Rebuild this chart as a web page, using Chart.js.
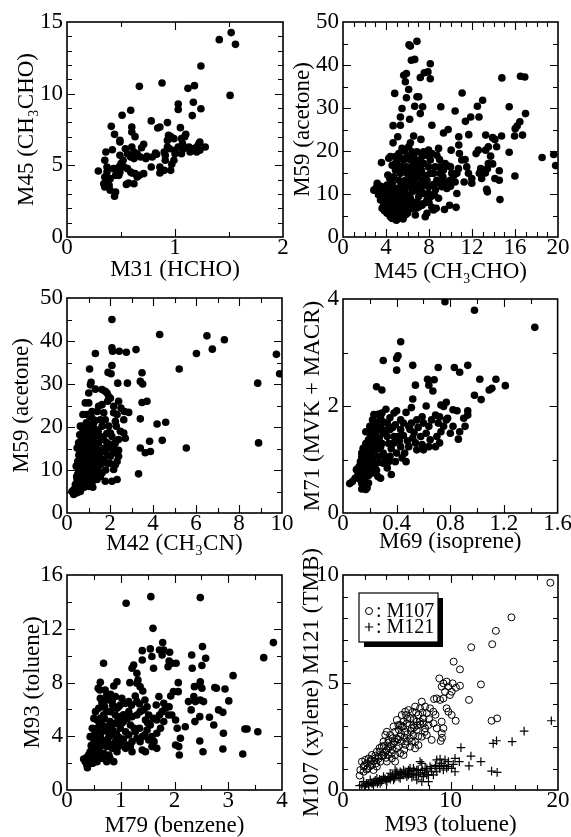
<!DOCTYPE html>
<html>
<head>
<meta charset="utf-8">
<script src="https://cdn.jsdelivr.net/npm/chart.js@4.4.0/dist/chart.umd.min.js"></script>
<style>
  html, body { margin: 0; padding: 0; background: #fff; }
  #wrap { position: relative; width: 571px; height: 837px; }
  #wrap canvas { position: absolute; left: 0; top: 0; }
</style>
</head>
<body>
<div id="wrap">
  <canvas id="c1" width="571" height="837"></canvas>
  <canvas id="c2" width="571" height="837"></canvas>
  <canvas id="c3" width="571" height="837"></canvas>
  <canvas id="c4" width="571" height="837"></canvas>
  <canvas id="c5" width="571" height="837"></canvas>
  <canvas id="c6" width="571" height="837"></canvas>
</div>
<script>
// 刻度标签
const xTicks1 = [0, 1, 2],               yTicks1 = [0, 5, 10, 15];
const xTicks2 = [0, 4, 8, 12, 16, 20],   yTicks2 = [0, 10, 20, 30, 40, 50];
const xTicks3 = [0, 2, 4, 6, 8, 10],     yTicks3 = [0, 10, 20, 30, 40, 50];
const xTicks4 = [0, 0.4, 0.8, 1.2, 1.6], yTicks4 = [0, 2, 4];
const xTicks5 = [0, 1, 2, 3, 4],         yTicks5 = [0, 4, 8, 12, 16];
const xTicks6 = [0, 10, 20],             yTicks6 = [0, 5, 10];

// M31 vs M45
const hchoAcetaldehyde = [[1.52,14.26],[1.41,13.77],[1.56,13.44],[1.24,11.93],[1.51,9.88],[0.88,10.74],[0.67,10.51],[1.12,10.37],[1.18,10.56],[1.03,9.28],[1.03,8.9],[1.17,9.4],[1.24,8.95],[1.16,8.47],[0.59,8.84],[0.51,8.49],[0.78,8.1],[0.84,7.6],[0.86,7.67],[0.93,7.98],[1.05,7.63],[0.41,7.72],[0.44,7.16],[0.6,7.67],[0.6,7.33],[0.63,7.0],[0.49,6.74],[0.49,6.63],[0.71,6.47],[0.69,6.23],[0.36,5.93],[0.42,6.09],[0.49,5.7],[0.54,6.16],[0.56,5.81],[0.59,5.58],[0.6,6.28],[0.62,5.93],[0.65,5.81],[0.62,5.47],[0.68,5.58],[0.73,5.49],[0.79,5.58],[0.83,5.77],[0.91,5.7],[0.91,5.35],[0.93,6.28],[0.93,6.74],[0.94,7.09],[0.96,7.0],[0.99,6.86],[1.0,6.05],[1.0,5.81],[1.03,6.28],[1.06,6.86],[1.07,6.51],[1.09,7.0],[1.1,7.16],[1.08,6.16],[1.06,5.81],[1.13,6.28],[1.14,5.93],[1.16,6.16],[1.2,6.28],[1.22,6.51],[1.23,6.63],[1.2,5.93],[1.28,6.28],[1.23,6.05],[0.99,5.35],[0.97,5.07],[0.96,4.65],[0.9,4.65],[0.86,4.88],[0.86,4.47],[0.78,4.88],[0.73,5.47],[0.71,4.42],[0.67,4.3],[0.65,4.19],[0.62,3.72],[0.6,4.47],[0.57,3.77],[0.55,3.67],[0.56,4.77],[0.5,5.12],[0.48,4.88],[0.52,5.35],[0.53,4.88],[0.46,4.65],[0.43,4.77],[0.45,4.3],[0.48,4.3],[0.29,4.6],[0.35,5.35],[0.37,4.88],[0.37,4.53],[0.35,4.19],[0.34,3.72],[0.36,3.84],[0.39,3.6],[0.35,3.49],[0.4,3.26],[0.45,3.14],[0.44,2.84],[0.37,4.19],[0.4,4.07],[0.49,4.53],[0.63,4.42],[0.74,5.63],[0.82,5.86],[0.9,5.93],[0.95,6.16],[0.59,4.53]];

// M45 vs M59
const acetaldehydeAcetone = [[6.14,44.7],[6.88,45.5],[6.27,44.4],[6.36,41.1],[6.67,41.3],[8.12,40.3],[7.56,38.2],[7.9,38.4],[8.12,36.8],[7.19,37.1],[5.65,37.6],[5.9,38.0],[5.8,36.1],[6.11,34.3],[5.9,32.4],[6.88,32.6],[7.04,32.6],[4.81,33.4],[6.67,30.4],[7.41,30.3],[7.19,28.7],[5.49,29.9],[6.2,27.4],[8.27,26.0],[5.34,27.9],[5.34,26.0],[4.66,25.9],[5.09,23.3],[4.66,21.9],[6.57,23.5],[7.25,22.7],[6.27,21.9],[6.11,21.0],[5.49,20.6],[5.71,20.0],[9.1,30.3],[10.43,29.3],[11.08,33.5],[12.99,31.8],[12.5,30.4],[12.65,27.9],[11.88,27.9],[11.39,26.9],[11.7,23.8],[9.78,25.0],[9.35,24.2],[10.06,20.2],[10.77,21.4],[10.77,23.3],[14.78,37.0],[16.51,37.4],[16.91,37.2],[16.98,28.7],[15.46,30.3],[16.45,26.8],[16.2,25.8],[16.02,25.2],[16.7,23.7],[15.96,23.5],[14.75,23.5],[14.13,22.7],[13.27,23.7],[13.92,23.1],[13.52,21.0],[14.29,21.0],[13.27,20.2],[12.59,20.2],[12.38,19.4],[15.46,19.7],[15.99,14.2],[18.52,18.5],[19.6,19.2],[19.78,16.6],[13.73,18.8],[13.52,17.1],[13.92,17.0],[14.54,15.4],[12.81,15.9],[12.68,14.8],[13.43,15.9],[13.24,14.9],[12.9,13.6],[14.13,13.6],[14.54,13.2],[13.36,11.1],[13.43,10.5],[14.6,8.7],[11.98,13.6],[11.98,12.5],[11.27,12.8],[11.67,14.8],[11.51,16.3],[11.05,17.9],[10.83,19.4],[11.36,18.0],[10.74,15.9],[10.59,14.8],[10.43,12.8],[10.59,10.1],[10.52,6.9],[9.91,7.4],[9.44,6.4],[8.67,6.7],[8.43,6.3],[9.97,13.2],[10.12,14.8],[9.81,16.5],[9.5,17.1],[9.35,15.6],[9.04,14.8],[8.98,18.0],[8.73,19.0],[8.58,16.3],[8.43,14.8],[8.73,13.2],[9.5,12.8],[9.2,11.7],[9.66,11.3],[8.49,9.8],[8.89,9.0],[8.18,9.4],[7.81,5.5],[7.65,4.7],[8.27,6.9],[6.73,5.1],[6.82,6.7],[7.04,7.0],[7.35,7.4],[7.5,7.8],[7.81,8.6],[7.96,10.1],[7.96,11.7],[7.81,13.2],[8.12,14.8],[7.96,16.3],[8.12,17.9],[8.27,19.4],[7.81,19.0],[7.35,18.7],[7.5,17.1],[7.19,16.3],[7.19,14.8],[7.35,13.2],[7.35,11.7],[7.5,10.1],[7.04,9.4],[6.88,10.9],[6.73,12.5],[6.88,14.0],[6.73,15.6],[6.73,17.1],[6.57,18.7],[6.27,17.9],[6.42,16.3],[6.27,14.8],[6.42,13.2],[6.27,11.7],[6.42,10.5],[6.27,9.0],[6.11,7.8],[5.96,6.3],[5.8,5.1],[5.59,4.2],[5.9,16.3],[5.96,14.8],[5.8,13.2],[5.96,11.7],[5.8,10.1],[5.65,8.6],[5.49,7.0],[5.34,5.5],[5.65,17.9],[5.49,16.3],[5.34,14.8],[5.19,13.2],[5.34,11.7],[5.19,10.1],[5.03,8.6],[4.88,7.0],[4.72,5.5],[4.57,4.3],[4.97,3.9],[5.03,17.1],[4.88,15.6],[4.72,14.0],[4.57,12.5],[4.88,11.3],[4.57,9.8],[4.41,8.6],[4.26,7.0],[4.1,5.5],[4.41,4.7],[4.41,18.7],[4.26,18.3],[4.57,16.7],[4.17,14.4],[4.35,13.6],[4.1,12.1],[3.95,10.9],[3.86,10.1],[4.04,9.4],[3.64,9.4],[3.8,8.2],[3.73,7.0],[3.64,6.7],[3.86,6.1],[3.58,17.3],[3.18,12.5],[2.87,10.9],[3.24,11.1],[3.49,10.5],[3.49,8.6],[4.04,7.8],[3.95,11.7],[5.19,19.4],[4.88,18.7],[6.42,19.8],[6.88,19.8],[7.5,19.8],[7.96,20.2],[8.89,20.6],[9.04,16.3],[10.0,16.3],
  [4.2,10.5],[4.5,11.5],[4.8,10.0],[5.1,11.0],[5.4,9.5],[5.7,10.5],[6.0,9.5],[6.3,12.5],[6.6,11.0],[6.9,12.0],[7.2,10.8],[7.6,12.4],[4.3,8.0],[4.6,7.5],[4.9,8.5],[5.2,7.5],[5.5,8.2],[5.8,7.3],[6.1,8.4],[6.5,8.0],[6.9,8.2],[4.2,6.0],[4.5,6.2],[4.8,6.4],[5.1,6.2],[5.5,6.0],[5.8,6.6],[3.7,8.5],[3.9,7.5],[4.0,6.5],[4.7,4.8],[5.0,5.0],[5.3,4.5],[6.0,5.5],[6.4,6.6],[6.6,14.0],[6.2,13.5],[5.6,12.2],[5.2,15.8],[5.8,15.5],[6.2,15.8],[6.9,15.0],[7.3,15.5],[7.7,14.3],[7.0,17.8],[6.0,18.8],[5.4,18.3],[4.9,17.2],[8.4,12.2],[8.6,11.0],[9.0,12.5],[9.3,14.0],[10.3,14.3],[10.0,11.8],[8.0,8.0],[3.5,11.8],[3.3,9.8],[3.1,11.5]];

// M42 vs M59
const acetonitrileAcetone = [[2.09,45.0],[2.09,38.4],[2.12,37.6],[2.43,37.6],[2.76,37.4],[3.21,38.0],[1.32,37.1],[4.31,41.5],[6.51,41.2],[7.32,40.3],[6.76,38.1],[6.02,37.1],[9.74,36.9],[9.89,32.4],[5.22,33.5],[8.87,30.2],[8.91,16.3],[5.55,15.1],[4.43,16.9],[4.19,20.7],[4.59,21.1],[3.49,32.6],[3.41,30.6],[3.52,30.0],[3.49,25.7],[3.72,26.0],[3.41,21.9],[3.41,15.1],[3.64,14.0],[3.88,14.3],[3.84,16.7],[3.33,9.1],[2.81,30.2],[2.36,30.2],[2.05,32.4],[2.09,34.3],[1.91,32.7],[1.05,33.5],[1.09,29.8],[1.12,30.4],[1.32,28.8],[1.63,28.7],[1.78,28.3],[1.86,27.9],[1.94,27.1],[2.02,26.7],[1.89,26.0],[2.4,26.0],[2.51,24.4],[2.67,23.6],[2.87,23.4],[2.64,21.7],[2.17,24.8],[2.17,23.3],[2.33,22.9],[2.25,21.3],[2.29,20.2],[2.48,19.0],[2.64,18.6],[2.71,17.4],[2.4,17.1],[2.25,16.3],[2.17,15.5],[2.4,14.6],[2.4,13.2],[2.17,14.0],[2.02,13.2],[1.94,15.1],[1.86,16.3],[1.71,17.1],[1.55,17.8],[1.63,20.2],[1.55,21.7],[1.4,23.6],[1.47,24.8],[1.63,25.2],[1.71,23.3],[1.78,21.7],[1.94,20.2],[2.02,18.6],[2.09,17.8],[2.33,12.0],[2.25,11.2],[2.17,10.1],[2.33,7.8],[2.09,7.4],[1.78,7.4],[1.63,9.3],[1.55,11.2],[1.71,12.4],[1.47,13.2],[1.4,12.0],[1.32,15.5],[1.24,17.8],[1.32,19.4],[1.24,20.9],[1.16,22.1],[1.16,23.6],[0.93,22.9],[1.01,25.6],[0.85,25.6],[1.01,27.9],[0.74,22.9],[0.78,20.2],[0.62,20.2],[0.7,19.8],[0.59,18.2],[0.54,16.3],[0.47,15.1],[0.7,15.5],[0.85,17.1],[0.93,18.6],[1.09,19.0],[1.01,20.2],[1.16,17.1],[1.09,15.5],[0.93,14.0],[0.78,13.2],[0.62,13.2],[0.85,12.0],[1.01,11.2],[1.16,12.4],[1.24,14.0],[1.4,14.7],[1.47,16.3],[1.09,9.7],[1.24,8.5],[1.4,7.8],[1.16,7.0],[1.01,6.2],[0.85,7.0],[0.93,8.1],[0.7,9.3],[0.62,10.5],[0.54,9.3],[0.47,7.8],[0.39,6.6],[0.54,6.2],[0.7,5.8],[0.31,5.4],[0.23,5.0],[0.31,4.3],[0.47,4.7],[0.62,5.0],[0.78,7.8],[1.32,10.5],[1.47,9.7],[1.55,8.5],[1.86,11.6],[1.01,13.6],[0.78,10.9],[0.9,9.9],[0.5,12.0],[0.43,10.9],[0.8,15.0],[0.95,16.2],[1.2,16.0],[0.6,11.5],[0.7,12.3],[0.9,10.5],[1.1,10.8],[1.3,12.8],[0.65,8.0],[0.8,8.8],[1.05,8.2],[0.55,7.0],[0.4,5.8],[0.9,18.0],[1.1,13.0],[1.3,21.5],[0.75,18.5],[0.6,14.5],[1.55,14.0],[1.7,15.0],[1.9,13.5],[2.0,11.5],[1.8,10.0],[1.2,6.0],[0.35,4.6],
  [0.45,8.5],[0.55,10.0],[0.65,11.0],[0.75,12.0],[0.85,13.0],[0.95,12.5],[1.05,14.5],[1.15,15.0],[1.25,16.5],[0.65,16.8],[0.75,16.0],[0.85,15.2],[0.95,19.0],[1.05,18.0],[1.2,19.5],[1.35,18.0],[1.45,19.0],[0.5,9.0],[0.6,6.8],[0.7,7.5],[0.85,9.2],[0.95,11.0],[1.2,11.5],[1.35,13.5],[1.45,11.0],[1.6,12.5],[1.75,14.2],[1.85,18.5],[2.1,16.0],[0.35,5.5],[0.45,5.2],[0.55,5.6],[0.5,6.5],[0.8,6.0],[0.95,7.2],[1.1,8.0],[1.25,9.3],[0.7,14.0],[0.55,13.5],[0.9,21.0],[1.05,22.5],[0.75,11.0]];

// M69 vs M71
const isopreneMvk = [[0.76,3.95],[0.98,3.79],[1.43,3.47],[0.43,3.2],[0.41,2.94],[0.40,2.89],[0.30,2.85],[0.40,2.67],[0.52,2.76],[0.71,2.72],[0.83,2.72],[0.87,2.63],[0.93,2.76],[0.63,2.5],[0.68,2.49],[0.64,2.39],[0.67,2.28],[0.54,2.39],[0.25,2.36],[0.29,2.3],[1.02,2.5],[1.14,2.5],[1.09,2.3],[1.11,2.33],[1.21,2.38],[0.98,2.2],[1.03,2.12],[0.52,2.13],[0.51,1.97],[0.62,2.0],[0.77,2.07],[0.75,1.99],[0.73,2.02],[0.93,1.91],[0.93,1.83],[0.82,1.93],[0.85,1.91],[0.9,1.77],[0.91,1.62],[0.87,1.52],[0.86,1.38],[0.82,1.62],[0.77,1.74],[0.72,1.8],[0.71,1.68],[0.69,1.83],[0.66,1.74],[0.64,1.62],[0.6,1.68],[0.59,1.8],[0.55,1.74],[0.62,1.49],[0.73,1.52],[0.72,1.31],[0.69,1.24],[0.64,1.24],[0.59,1.28],[0.55,1.18],[0.52,1.4],[0.5,1.56],[0.47,1.88],[0.45,1.68],[0.43,1.56],[0.41,1.43],[0.39,1.65],[0.38,1.87],[0.32,1.94],[0.29,1.87],[0.28,1.74],[0.35,1.56],[0.33,1.43],[0.38,1.31],[0.43,1.24],[0.46,1.12],[0.47,0.96],[0.44,1.03],[0.4,1.12],[0.35,1.06],[0.34,0.96],[0.33,0.84],[0.36,0.72],[0.28,0.65],[0.26,0.68],[0.30,1.12],[0.28,1.24],[0.25,1.37],[0.24,1.49],[0.23,1.62],[0.22,1.74],[0.23,1.84],[0.25,1.84],[0.28,1.8],[0.25,1.62],[0.2,1.49],[0.19,1.37],[0.18,1.24],[0.19,1.12],[0.22,1.0],[0.24,0.9],[0.2,0.84],[0.17,0.87],[0.15,1.0],[0.14,1.12],[0.13,0.96],[0.12,0.87],[0.12,0.75],[0.13,0.62],[0.15,0.5],[0.17,0.44],[0.14,0.45],[0.18,0.47],[0.19,0.56],[0.17,0.68],[0.17,0.76],[0.09,0.65],[0.07,0.59],[0.05,0.55],[0.1,0.81],[0.14,0.75],[0.15,1.21],[0.17,1.52],[0.2,1.62],[0.22,1.31],[0.24,1.18],[0.26,1.06],[0.30,0.93],[0.39,0.96],[0.49,1.24],[0.54,1.31],[0.58,1.43],[0.6,1.18],[0.65,1.37],[0.7,1.43],[0.75,1.62],[0.78,1.77],[0.8,1.49],[0.4,1.91],[0.43,1.74],[0.49,1.62],[0.51,1.68],[0.33,1.68],[0.30,1.49],[0.38,1.43],
  [0.13,0.8],[0.15,0.85],[0.16,0.95],[0.18,0.9],[0.2,1.0],[0.21,1.1],[0.16,1.05],[0.18,1.15],[0.2,1.25],[0.22,1.2],[0.24,1.3],[0.26,1.2],[0.27,1.4],[0.29,1.3],[0.21,1.45],[0.23,1.55],[0.26,1.55],[0.28,1.6],[0.3,1.7],[0.32,1.55],[0.34,1.3],[0.36,1.2],[0.31,1.05],[0.27,0.95],[0.25,0.8],[0.22,0.75],[0.19,0.7],[0.16,0.6],[0.14,0.55],[0.11,0.7],[0.15,0.68],[0.19,0.95],[0.17,1.3],[0.14,1.05],[0.37,1.6],[0.42,1.35],[0.45,1.45],[0.48,1.35],[0.53,1.5],[0.56,1.6],[0.35,1.78],[0.27,1.85],[0.24,1.7]];

// M79 vs M93
const benzeneToluene = [[1.56,14.39],[1.1,13.9],[2.48,14.32],[1.6,12.03],[1.78,10.97],[1.72,10.42],[1.8,10.42],[1.77,10.05],[1.58,9.93],[1.4,10.37],[1.4,9.68],[1.55,10.5],[1.91,10.25],[1.9,9.6],[1.95,9.43],[1.88,9.18],[2.03,9.43],[1.61,9.06],[1.24,9.3],[1.21,9.06],[1.3,8.68],[1.32,8.19],[1.3,7.94],[1.36,7.69],[1.41,7.37],[1.17,7.99],[0.68,9.43],[0.62,8.01],[0.58,7.57],[0.61,7.44],[0.71,7.44],[0.87,7.74],[0.74,7.07],[0.81,7.12],[0.9,6.95],[1.02,6.82],[0.62,6.82],[0.59,6.08],[1.09,6.45],[0.99,6.33],[0.93,6.08],[1.15,6.58],[1.27,7.0],[1.3,6.58],[1.36,5.83],[1.3,5.58],[1.21,5.46],[1.12,5.33],[0.99,5.46],[0.9,5.58],[0.81,5.83],[0.73,5.83],[0.68,5.58],[0.62,5.33],[0.56,5.21],[0.5,5.33],[0.47,4.59],[0.56,4.59],[0.65,4.84],[0.71,4.71],[0.81,4.71],[0.9,4.96],[0.99,4.59],[1.09,4.34],[1.18,4.84],[1.27,4.34],[1.3,3.85],[1.21,3.6],[1.12,3.35],[1.09,3.1],[0.99,3.47],[0.9,3.6],[0.87,4.09],[0.78,3.97],[0.71,3.6],[0.62,3.97],[0.56,3.72],[0.5,3.6],[0.43,3.97],[0.5,3.1],[0.59,2.85],[0.68,2.73],[0.65,2.36],[0.78,2.61],[0.87,2.11],[0.74,2.11],[0.56,2.11],[0.47,2.48],[0.4,2.23],[0.34,2.11],[0.31,2.31],[0.37,1.86],[0.38,1.66],[0.42,1.99],[0.5,2.23],[0.43,2.85],[0.53,2.61],[0.62,3.23],[0.74,3.23],[0.84,3.1],[0.93,2.85],[0.96,3.23],[1.21,2.85],[1.18,3.23],[1.36,3.6],[1.4,2.98],[1.46,2.85],[1.4,3.97],[1.49,4.47],[1.55,4.84],[1.46,5.21],[1.52,5.58],[1.61,5.33],[1.67,5.21],[1.72,5.58],[1.77,5.83],[1.8,5.09],[1.74,4.59],[1.67,4.22],[1.58,3.97],[1.62,3.6],[1.67,3.1],[1.58,3.23],[1.52,3.72],[1.83,6.08],[1.9,6.2],[1.8,6.45],[1.71,6.95],[1.66,6.33],[1.43,5.96],[1.49,6.2],[1.98,7.32],[2.07,7.99],[2.07,7.32],[1.93,7.0],[2.02,5.21],[2.05,4.59],[2.02,3.35],[2.08,3.23],[2.11,3.85],[2.09,2.61],[2.2,4.71],[2.31,5.96],[2.26,6.58],[2.39,6.58],[2.36,6.95],[2.37,7.69],[2.32,10.05],[2.33,9.06],[2.48,8.06],[2.47,7.82],[2.51,7.57],[2.48,6.7],[2.54,6.58],[2.38,5.09],[2.47,5.46],[2.47,3.65],[2.53,2.85],[2.51,9.26],[2.52,10.67],[2.58,9.8],[2.65,5.41],[2.73,4.84],[2.75,7.62],[2.78,7.57],[2.82,5.96],[2.9,5.78],[2.94,7.52],[3.01,6.63],[3.09,8.51],[2.91,4.22],[2.9,3.05],[3.27,2.68],[3.31,4.54],[3.35,4.54],[3.55,4.34],[3.66,9.85],[3.84,10.97],[1.89,5.58],[1.95,5.58],[1.02,4.96],[1.15,5.83],[0.96,6.2],[0.84,6.58],[0.93,8.06],[0.53,5.83],
  [0.45,3.3],[0.52,3.85],[0.58,3.3],[0.66,3.45],[0.75,3.75],[0.82,3.4],[0.92,4.2],[0.97,3.9],[0.55,2.6],[0.6,2.45],[0.7,2.3],[0.8,2.35],[0.48,2.0],[0.4,2.6],[0.36,2.4],[0.64,4.3],[0.76,4.35],[0.85,4.45],[0.52,4.25],[0.6,5.0],[0.7,5.3],[0.8,5.1],[0.95,5.2],[1.05,5.1],[1.05,3.8],[1.15,4.1],[1.25,4.6],[1.35,4.6],[1.45,4.1],[1.5,5.0],[1.05,5.6],[0.85,6.3],[0.7,6.2],[0.65,6.5],[0.75,6.7],[1.35,6.4],[1.45,6.7],[1.2,6.3]];

// M93 vs M107 / M121
const tolueneXylene = [[19.29,9.64],[15.67,8.03],[14.22,7.4],[13.88,6.78],[11.93,6.64],[10.29,5.97],[10.88,5.61],[12.83,4.91],[8.96,5.19],[11.72,4.19],[14.34,3.33],[13.82,3.22],[10.48,3.22],[10.88,4.85],[10.51,4.76],[10.2,4.96],[9.8,4.81],[9.64,5.04],[9.34,4.96],[9.18,4.81],[9.49,4.57],[9.95,4.42],[10.11,4.57],[9.34,4.26],[9.03,4.19],[8.72,4.26],[8.47,4.23],[9.64,3.8],[9.8,3.64],[10.11,3.49],[9.18,3.18],[9.34,2.87],[9.18,2.64],[9.09,2.28],[8.41,3.1],[7.95,3.02],[8.41,3.64],[8.1,3.8],[7.79,3.57],[7.33,4.11],[7.64,3.88],[7.17,3.8],[7.02,3.49],[7.48,3.33],[7.17,3.18],[7.64,2.87],[7.79,2.56],[7.33,2.48],[6.86,2.79],[6.55,3.26],[6.49,3.64],[6.71,3.88],[6.09,3.72],[5.87,3.49],[6.24,3.33],[5.94,3.1],[6.4,2.87],[6.55,2.56],[6.71,2.25],[6.24,2.02],[6.71,1.94],[5.69,1.86],[5.47,2.25],[5.32,2.48],[5.78,2.71],[5.47,2.95],[5.16,3.02],[4.85,2.71],[5.01,2.4],[4.7,2.17],[5.01,1.94],[5.32,1.71],[5.63,1.63],[4.39,2.02],[4.23,2.33],[4.39,2.56],[3.93,2.56],[3.77,2.25],[3.62,2.02],[4.08,1.86],[3.77,1.63],[3.46,1.78],[3.15,1.78],[3.31,1.55],[3.0,1.47],[2.69,1.63],[2.38,1.47],[2.53,1.32],[2.23,1.24],[2.07,1.4],[1.76,1.32],[1.92,1.09],[1.61,0.93],[1.55,0.67],[1.92,0.85],[2.29,1.01],[2.69,1.16],[3.09,1.24],[3.46,1.32],[3.15,1.09],[2.84,0.93],[4.08,1.32],[4.54,1.47],[4.85,1.63],[4.85,1.32],[4.54,1.71],[4.23,1.63],[4.08,2.71],[4.7,2.95],[5.01,3.26],[5.32,3.02],[5.63,3.18],[5.47,3.49],[5.78,3.64],[6.55,3.02],[6.86,3.18],[8.25,2.33],[8.72,2.87],[9.21,2.43],[5.94,2.25],[6.24,2.4],[7.02,2.09],
  [2.5,1.1],[2.9,1.35],[3.3,1.45],[3.6,1.6],[3.9,1.75],[4.2,1.95],[4.5,2.1],[4.8,2.25],[5.1,2.35],[5.4,2.6],[5.7,2.45],[6.0,2.6],[6.3,2.75],[6.6,2.9],[6.9,3.0],[7.2,3.05],[7.5,3.1],[2.2,0.95],[2.0,1.15],[2.6,1.4],[3.0,1.6],[3.4,1.95],[3.8,2.05],[4.2,2.2],[4.6,2.4],[5.2,2.8],[5.6,2.95],[6.0,3.3],[6.8,3.6],[7.4,3.6],[8.0,3.3],[8.6,3.5],[4.0,1.5],[4.6,1.85],[5.2,2.05],[5.8,2.1],[6.4,2.25],[7.0,2.5],[7.6,2.7]];
const tolueneTmb = [[19.38,3.22],[16.85,2.74],[15.73,2.25],[14.28,2.29],[13.97,2.17],[11.9,1.58],[10.97,1.97],[12.83,1.32],[11.72,1.12],[13.82,0.88],[14.34,0.82],[10.82,1.32],[10.42,1.47],[10.26,1.19],[9.8,1.32],[10.11,1.01],[10.42,0.85],[9.49,1.4],[9.18,1.24],[9.03,1.44],[8.72,1.4],[8.96,1.09],[9.34,0.93],[9.64,1.01],[8.56,1.01],[8.25,0.85],[7.79,0.7],[7.95,0.39],[7.33,1.24],[7.17,1.32],[7.64,1.01],[6.86,0.93],[6.55,1.01],[6.4,0.78],[6.09,0.93],[5.78,0.85],[5.47,0.78],[5.16,0.7],[4.85,0.7],[4.54,0.62],[4.23,0.54],[3.93,0.51],[3.62,0.47],[3.31,0.39],[3.0,0.36],[2.69,0.31],[2.38,0.26],[2.07,0.23],[1.76,0.23],[1.55,0.2],[1.92,0.39],[2.53,0.47],[3.15,0.54],[3.77,0.62],[4.39,0.78],[5.01,0.85],[5.63,0.93],[6.24,1.01],[6.55,0.7],[5.94,0.62],[5.32,0.54],[4.7,0.47],[4.08,0.39],[3.46,0.31],[2.84,0.23],[7.02,0.7],[7.48,0.62],[7.95,0.7],[8.41,0.7],[8.72,0.85],[6.86,0.47],[7.33,0.39],[5.32,0.85],[4.85,0.93],[6.09,0.7],[7.79,0.93],[8.1,1.09],
  [2.2,0.3],[2.6,0.35],[3.0,0.45],[3.4,0.5],[3.8,0.55],[4.2,0.6],[4.6,0.7],[5.0,0.75],[5.4,0.8],[5.8,0.75],[6.2,0.85],[6.6,0.9],[7.0,0.95],[7.4,0.9],[7.8,1.0],[8.2,1.0],[8.6,1.15],[9.0,1.0],[9.4,1.15],[9.8,1.1],[2.0,0.15],[2.4,0.2],[2.8,0.3],[3.2,0.3],[3.6,0.4],[4.0,0.45],[4.4,0.5],[4.8,0.55],[5.2,0.6],[5.6,0.7],[6.0,0.75],[6.4,0.6],[6.8,0.7],[7.2,0.8],[7.6,0.8]];

const FONT = 'Liberation Serif';
const W = 571, H = 837;

const dotStyle = { pointStyle: 'circle', pointRadius: 3.8, backgroundColor: '#000', borderWidth: 0 };
const ringStyle = { pointStyle: 'circle', pointRadius: 3.5, backgroundColor: 'rgba(0,0,0,0)', borderColor: '#000', borderWidth: 1 };
const crossStyle = { pointStyle: 'cross', pointRadius: 4.3, borderColor: '#000', borderWidth: 1.2 };

// 六个面板：位置、刻度、标题
const panels = [
  { id: 'c1', sets: [{ pts: hchoAcetaldehyde, style: dotStyle }],
    xTitle: 'M31 (HCHO)', yTitle: 'M45 (CH₃CHO)',
    xTicks: xTicks1, yTicks: yTicks1, xMinor: 0.5, yMinor: 1,
    box: { l: 67, r: 283, t: 22, b: 237 }, xTitleY: 270, yTitleX: 27 },
  { id: 'c2', sets: [{ pts: acetaldehydeAcetone, style: dotStyle }],
    xTitle: 'M45 (CH₃CHO)', yTitle: 'M59 (acetone)',
    xTicks: xTicks2, yTicks: yTicks2, xMinor: 1, yMinor: 5,
    box: { l: 343, r: 558, t: 22, b: 237 }, xTitleY: 272, yTitleX: 303 },
  { id: 'c3', sets: [{ pts: acetonitrileAcetone, style: dotStyle }],
    xTitle: 'M42 (CH₃CN)', yTitle: 'M59 (acetone)',
    xTicks: xTicks3, yTicks: yTicks3, xMinor: 1, yMinor: 5,
    box: { l: 67, r: 282, t: 298, b: 513 }, xTitleY: 544, yTitleX: 22 },
  { id: 'c4', sets: [{ pts: isopreneMvk, style: dotStyle }],
    xTitle: 'M69 (isoprene)', yTitle: 'M71 (MVK + MACR)',
    xTicks: xTicks4, yTicks: yTicks4, xMinor: 0.2, yMinor: 1,
    box: { l: 343, r: 558, t: 299, b: 513 }, xTitleY: 542, yTitleX: 313 },
  { id: 'c5', sets: [{ pts: benzeneToluene, style: dotStyle }],
    xTitle: 'M79 (benzene)', yTitle: 'M93 (toluene)',
    xTicks: xTicks5, yTicks: yTicks5, xMinor: 0.5, yMinor: 2,
    box: { l: 67, r: 282, t: 575, b: 790 }, xTitleY: 826, yTitleX: 33 },
  { id: 'c6', sets: [{ pts: tolueneXylene, style: ringStyle, label: 'M107' },
                     { pts: tolueneTmb, style: crossStyle, label: 'M121' }],
    xTitle: 'M93 (toluene)', yTitle: 'M107 (xylene) M121 (TMB)',
    xTicks: xTicks6, yTicks: yTicks6, xMinor: 2, yMinor: 1,
    box: { l: 343, r: 558, t: 575, b: 790 }, xTitleY: 825, yTitleX: 312, legend: true }
];

// 刻度线位置（向内），主刻度更长
function tickMarks(scale, step) {
  const n = Math.round((scale.max - scale.min) / step);
  const majors = scale.ticks.map(t => t.value);
  const out = [];
  for (let i = 1; i < n; i++) {
    const v = scale.min + i * step;
    out.push([v, majors.some(m => Math.abs(m - v) < 1e-6)]);
  }
  return out;
}

const frameTicks = {
  id: 'frameTicks',
  afterDraw(chart) {
    const o = chart.options.plugins.frameTicks;
    const { ctx, chartArea: a } = chart;
    const sx = chart.scales.x, sy = chart.scales.y;
    ctx.save();
    ctx.strokeStyle = '#000';
    ctx.lineWidth = 1.1;
    ctx.beginPath();
    tickMarks(sx, o.xMinor).forEach(([v, big]) => {
      const px = Math.round(sx.getPixelForValue(v)) + 0.5, len = big ? 8 : 5;
      ctx.moveTo(px, a.bottom); ctx.lineTo(px, a.bottom - len);
      ctx.moveTo(px, a.top); ctx.lineTo(px, a.top + len);
    });
    tickMarks(sy, o.yMinor).forEach(([v, big]) => {
      const py = Math.round(sy.getPixelForValue(v)) + 0.5, len = big ? 8 : 5;
      ctx.moveTo(a.left, py); ctx.lineTo(a.left + len, py);
      ctx.moveTo(a.right, py); ctx.lineTo(a.right - len, py);
    });
    ctx.stroke();
    ctx.lineWidth = 1.6;
    ctx.strokeRect(a.left, a.top, a.right - a.left, a.bottom - a.top);
    ctx.restore();
  }
};

// 带阴影的图例框
const boxLegend = {
  id: 'boxLegend',
  afterDraw(chart) {
    const { ctx, chartArea: a } = chart;
    const x = a.left + 16, y = a.top + 18, w = 79, h = 49;
    ctx.save();
    ctx.fillStyle = '#000';
    ctx.fillRect(x + 5, y + 5, w, h);
    ctx.fillStyle = '#fff';
    ctx.fillRect(x, y, w, h);
    ctx.strokeStyle = '#000';
    ctx.lineWidth = 1.2;
    ctx.strokeRect(x, y, w, h);
    ctx.font = '20px "' + FONT + '"';
    ctx.textBaseline = 'middle';
    ctx.fillStyle = '#000';
    chart.data.datasets.forEach((ds, i) => {
      const cy = y + 18 + i * 16, mx = x + 10;
      ctx.beginPath();
      if (ds.pointStyle === 'cross') {
        ctx.lineWidth = ds.borderWidth;
        ctx.moveTo(mx - 4.3, cy); ctx.lineTo(mx + 4.3, cy);
        ctx.moveTo(mx, cy - 4.3); ctx.lineTo(mx, cy + 4.3);
      } else {
        ctx.lineWidth = 1;
        ctx.arc(mx, cy, 3.5, 0, Math.PI * 2);
      }
      ctx.stroke();
      ctx.fillText(': ' + ds.label, x + 17, cy + 1);
    });
    ctx.restore();
  }
};

function makePanel(p) {
  const LH = 23;
  const padLeft = p.yTitleX - LH / 2;
  const padBottom = H - (p.xTitleY + LH / 2);
  const font = { family: FONT, size: 23, lineHeight: 1 };
  const fmt = v => String(+(+v).toFixed(2));

  new Chart(document.getElementById(p.id), {
    type: 'scatter',
    data: {
      datasets: p.sets.map(s => Object.assign({
        label: s.label || '',
        data: s.pts.map(([x, y]) => ({ x, y })),
        clip: 0
      }, s.style))
    },
    options: {
      responsive: false,
      animation: false,
      events: [],
      layout: { padding: { left: padLeft, top: p.box.t, right: W - p.box.r, bottom: padBottom } },
      plugins: {
        legend: { display: false },
        tooltip: { enabled: false },
        frameTicks: { xMinor: p.xMinor, yMinor: p.yMinor }
      },
      scales: {
        x: {
          type: 'linear',
          min: p.xTicks[0], max: p.xTicks[p.xTicks.length - 1],
          afterBuildTicks: s => { s.ticks = p.xTicks.map(v => ({ value: v })); },
          afterFit: s => { s.height = p.xTitleY + LH / 2 - p.box.b; },
          ticks: { autoSkip: false, maxRotation: 0, padding: -1, color: '#000', font, callback: fmt },
          grid: { display: false, drawTicks: false },
          border: { display: false },
          title: { display: true, text: p.xTitle, color: '#000', font, padding: 0 }
        },
        y: {
          type: 'linear',
          min: p.yTicks[0], max: p.yTicks[p.yTicks.length - 1],
          afterBuildTicks: s => { s.ticks = p.yTicks.map(v => ({ value: v })); },
          afterFit: s => { s.width = p.box.l - padLeft; },
          ticks: { autoSkip: false, padding: 4, color: '#000', font, callback: fmt },
          grid: { display: false, drawTicks: false },
          border: { display: false },
          title: { display: true, text: p.yTitle, color: '#000', font, padding: 0 }
        }
      }
    },
    plugins: p.legend ? [frameTicks, boxLegend] : [frameTicks]
  });
}

panels.forEach(makePanel);
</script>
</body>
</html>
